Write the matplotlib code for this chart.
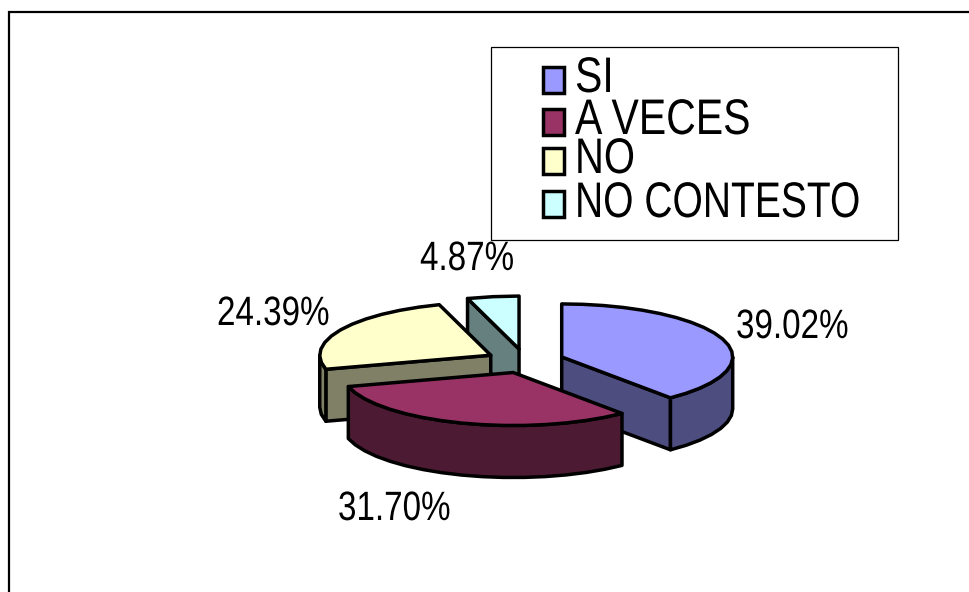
import numpy as np
import matplotlib
matplotlib.use('Agg')
import matplotlib.pyplot as plt
from matplotlib.patches import Polygon, Rectangle
from matplotlib.patheffects import AbstractPathEffect
from matplotlib.transforms import Affine2D

categories = ['SI', 'A VECES', 'NO', 'NO CONTESTO']
values = [39.02, 31.70, 24.39, 4.87]
labels = ['39.02%', '31.70%', '24.39%', '4.87%']
top_colors = ['#9999FF', '#993366', '#FFFFCC', '#CCFFFF']
side_colors = ['#4D4D80', '#4D1A33', '#808066', '#668080']

plt.rcParams['font.family'] = ['Liberation Sans']

# pie geometry in pixels
cx, cy = 525, 361
rx, ry = 171, 53
depth = 52
explode = 39
lw = 2.5


class Squeeze(AbstractPathEffect):
    # original text is condensed sideways
    def __init__(self, sx):
        super().__init__()
        self.sx = sx

    def draw_path(self, renderer, gc, tpath, affine, rgbFace=None):
        renderer.draw_path(gc, tpath, Affine2D().scale(self.sx, 1) + affine, rgbFace)


fig = plt.figure(figsize=(9.7, 5.92), dpi=100)
ax = fig.add_axes([0, 0, 1, 1])
ax.set_xlim(0, 970)
ax.set_ylim(592, 0)
ax.axis('off')

# outer frame, only left and top show
ax.plot([9, 9, 970], [592, 12, 12], color='black', lw=1.6, solid_joinstyle='miter')


def rim(ax0, ay0, t0, t1):
    n = max(2, int(abs(t1 - t0) / 7) + 1)
    t = np.radians(np.linspace(t0, t1, n))
    return np.column_stack([ax0 + rx * np.sin(t), ay0 - ry * np.cos(t)])


def draw_slice(i, start, end):
    mid = np.radians((start + end) / 2)
    ax0 = cx + explode * np.sin(mid)
    ay0 = cy - explode * ry / rx * np.cos(mid)
    down = np.array([0, depth])
    apex = np.array([ax0, ay0])

    # cut faces that look at the viewer
    for ang, show in [(start, np.sin(np.radians(start)) < -1e-6),
                      (end, np.sin(np.radians(end)) > 1e-6)]:
        if show:
            p = rim(ax0, ay0, ang, ang)[0]
            ax.add_patch(Polygon([apex, p, p + down, apex + down], closed=True,
                                 fc=side_colors[i], ec='black', lw=lw, joinstyle='round'))

    # outer wall on the front half
    a, b = max(start, 90), min(end, 270)
    if a < b:
        edge = rim(ax0, ay0, a, b)
        ax.add_patch(Polygon(np.vstack([edge, edge[::-1] + down]), closed=True,
                             fc=side_colors[i], ec='black', lw=lw, joinstyle='round'))

    # top face
    ax.add_patch(Polygon(np.vstack([apex, rim(ax0, ay0, start, end)]), closed=True,
                         fc=top_colors[i], ec='black', lw=lw, joinstyle='round'))


total = sum(values)
edges = np.concatenate([[0], np.cumsum(values)]) / total * 360
for i in [3, 2, 0, 1]:
    draw_slice(i, edges[i], edges[i + 1])

# data labels
label_pos = [(736, 338), (338, 520), (217, 325), (420, 270)]
for txt, (x, y) in zip(labels, label_pos):
    ax.text(x, y, txt, fontsize=29.5, ha='left', va='baseline', color='black',
            path_effects=[Squeeze(0.81)])

# legend box
ax.add_patch(Rectangle((491, 47), 407, 193, fc='white', ec='black', lw=0.9))
sw_top = [67, 109, 148, 191]
baselines = [92, 134, 173, 217]
legend_sx = [0.82, 0.82, 0.8, 0.78]
for i, name in enumerate(categories):
    ax.add_patch(Rectangle((543, sw_top[i]), 21, 26, fc=top_colors[i], ec='black', lw=lw))
    ax.text(575, baselines[i], name, fontsize=36, ha='left', va='baseline', color='black',
            path_effects=[Squeeze(legend_sx[i])])

fig.savefig('out.png', dpi=100)
